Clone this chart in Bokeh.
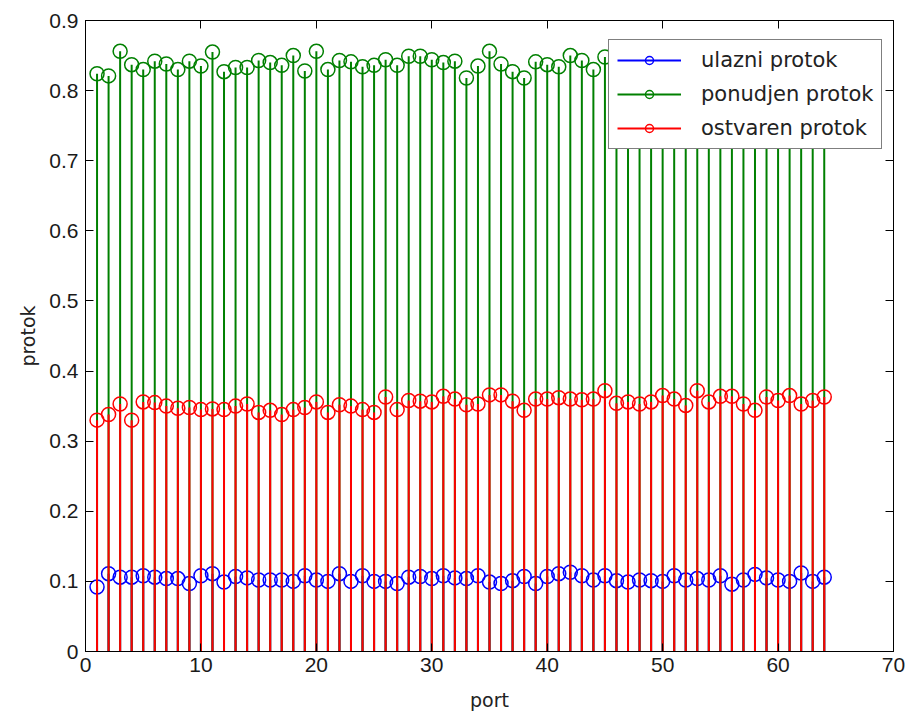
from bokeh.plotting import figure
from bokeh.models import (ColumnDataSource, FixedTicker, Legend, LegendItem,
                          LinearAxis, Range1d)
from bokeh.embed import file_html
from bokeh.resources import INLINE

# Port numbers and per-port throughput of the three measured quantities
ports = list(range(1, 65))

ulazni = [0.092, 0.111, 0.106, 0.106, 0.108, 0.106, 0.104, 0.104, 0.097, 0.108,
          0.111, 0.099, 0.107, 0.105, 0.102, 0.102, 0.102, 0.100, 0.108, 0.102,
          0.100, 0.111, 0.100, 0.108, 0.100, 0.100, 0.097, 0.106, 0.107, 0.104,
          0.108, 0.105, 0.104, 0.108, 0.099, 0.097, 0.101, 0.107, 0.097, 0.107,
          0.111, 0.113, 0.108, 0.102, 0.108, 0.101, 0.099, 0.102, 0.101, 0.100,
          0.108, 0.102, 0.104, 0.102, 0.108, 0.096, 0.102, 0.110, 0.105, 0.102,
          0.100, 0.112, 0.100, 0.106]

ponudjen = [0.824, 0.821, 0.856, 0.837, 0.830, 0.842, 0.838, 0.830, 0.842, 0.835,
            0.855, 0.827, 0.833, 0.833, 0.843, 0.840, 0.836, 0.850, 0.828, 0.856,
            0.830, 0.843, 0.841, 0.834, 0.836, 0.844, 0.836, 0.849, 0.849, 0.844,
            0.840, 0.842, 0.818, 0.835, 0.856, 0.838, 0.827, 0.818, 0.841, 0.837,
            0.834, 0.850, 0.843, 0.830, 0.848, 0.840, 0.835, 0.845, 0.838, 0.832,
            0.846, 0.839, 0.843, 0.836, 0.841, 0.833, 0.847, 0.838, 0.842, 0.835,
            0.844, 0.837, 0.840, 0.836]

ostvaren = [0.330, 0.338, 0.353, 0.330, 0.356, 0.355, 0.350, 0.347, 0.348, 0.345,
            0.346, 0.345, 0.350, 0.353, 0.341, 0.344, 0.338, 0.345, 0.348, 0.356,
            0.341, 0.352, 0.350, 0.345, 0.341, 0.363, 0.345, 0.358, 0.357, 0.356,
            0.364, 0.360, 0.352, 0.353, 0.366, 0.366, 0.357, 0.344, 0.360, 0.360,
            0.362, 0.360, 0.359, 0.360, 0.372, 0.354, 0.356, 0.353, 0.356, 0.365,
            0.360, 0.351, 0.372, 0.356, 0.364, 0.364, 0.353, 0.344, 0.363, 0.358,
            0.365, 0.353, 0.358, 0.363]

series_names = ["ulazni protok", "ponudjen protok", "ostvaren protok"]
series_colors = ["#0000ff", "#008000", "#ff0000"]

x_ticks = [0, 10, 20, 30, 40, 50, 60, 70]
y_ticks = [0, 0.1, 0.2, 0.3, 0.4, 0.5, 0.6, 0.7, 0.8, 0.9]

TICK_FONT = "Liberation Sans"
TEXT_FONT = "DejaVu Sans"

p = figure(width=909, height=716, output_backend="svg", toolbar_location=None,
           x_range=Range1d(0, 70), y_range=Range1d(0, 0.9),
           min_border_left=85, min_border_right=16,
           min_border_top=20, min_border_bottom=65)

p.background_fill_color = "white"
p.border_fill_color = "white"
p.outline_line_color = "black"
p.outline_line_width = 1
p.xgrid.visible = False
p.ygrid.visible = False

# stem plots: vertical line from zero plus an open circle at the value
legend_items = []
for name, color, vals in zip(series_names, series_colors, [ulazni, ponudjen, ostvaren]):
    src = ColumnDataSource(dict(x=ports, y=vals, y0=[0] * len(ports)))
    seg = p.segment(x0="x", y0="y0", x1="x", y1="y", source=src,
                    line_color=color, line_width=2)
    dots = p.scatter(x="x", y="y", source=src, marker="circle", size=14,
                     fill_color=None, line_color=color, line_width=1.5)
    legend_items.append(LegendItem(label=name, renderers=[seg, dots]))

# main axes
p.xaxis.axis_label = "port"
p.yaxis.axis_label = "protok"
p.xaxis.ticker = FixedTicker(ticks=x_ticks)
p.yaxis.ticker = FixedTicker(ticks=y_ticks)
p.yaxis.major_label_overrides = {0: "0"}

for ax in [p.xaxis[0], p.yaxis[0]]:
    ax.major_tick_in = 8
    ax.major_tick_out = 0
    ax.minor_tick_line_color = None
    ax.axis_line_color = "black"
    ax.major_tick_line_color = "black"
    ax.major_label_text_font = TICK_FONT
    ax.major_label_text_font_size = "21px"
    ax.major_label_text_color = "#1a1a1a"
    ax.axis_label_text_font = TEXT_FONT
    ax.axis_label_text_font_size = "19px"
    ax.axis_label_text_font_style = "normal"
    ax.axis_label_text_color = "#222222"

p.xaxis.major_label_standoff = 6
p.yaxis.major_label_standoff = 7
p.xaxis.axis_label_standoff = 14
p.yaxis.axis_label_standoff = 7

# mirrored ticks on the top and right edges (box style), without labels
top_axis = LinearAxis(ticker=FixedTicker(ticks=x_ticks))
top_axis.major_label_overrides = {t: "" for t in x_ticks}
right_axis = LinearAxis(ticker=FixedTicker(ticks=y_ticks))
right_axis.major_label_overrides = {t: "" for t in y_ticks}
for ax in [top_axis, right_axis]:
    ax.major_tick_in = 8
    ax.major_tick_out = 0
    ax.minor_tick_line_color = None
    ax.major_label_standoff = 0
    ax.axis_line_color = "black"
    ax.major_tick_line_color = "black"
p.add_layout(top_axis, "above")
p.add_layout(right_axis, "right")

legend = Legend(items=legend_items, location=(523, 502))
legend.border_line_color = "black"
legend.border_line_width = 1
legend.background_fill_color = "white"
legend.background_fill_alpha = 1.0
legend.label_text_font = TEXT_FONT
legend.label_text_font_size = "21px"
legend.label_text_color = "#222222"
legend.glyph_width = 64
legend.glyph_height = 20
legend.label_height = 20
legend.label_standoff = 20
legend.spacing = 10
legend.padding = 8
legend.margin = 0
p.add_layout(legend, "center")

open("out.html", "w").write(file_html(p, INLINE))
